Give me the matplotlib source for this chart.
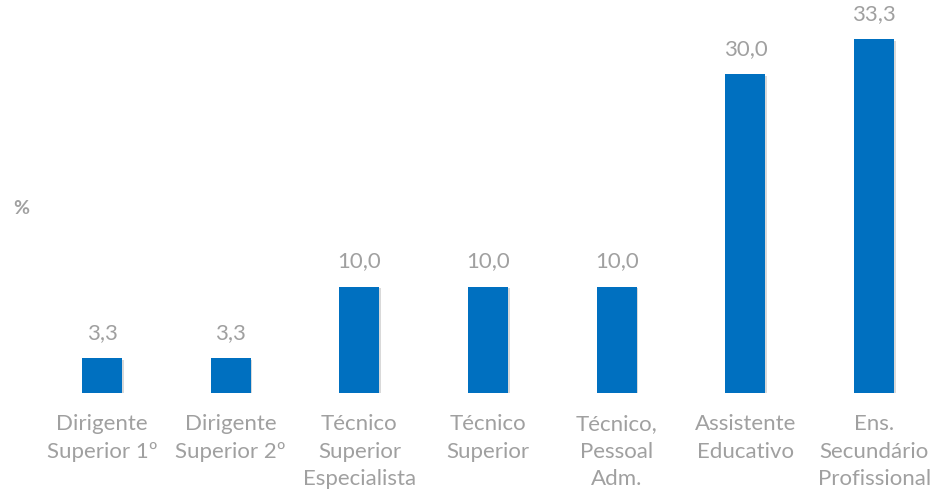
import matplotlib
matplotlib.use("Agg")
import matplotlib.pyplot as plt
import matplotlib.patheffects as pe

categories = [
    "Dirigente\nSuperior 1º",
    "Dirigente\nSuperior 2º",
    "Técnico\nSuperior\nEspecialista",
    "Técnico\nSuperior",
    "Técnico,\nPessoal\nAdm.",
    "Assistente\nEducativo",
    "Ens.\nSecundário\nProfissional",
]
values = [3.3, 3.3, 10.0, 10.0, 10.0, 30.0, 33.3]
value_labels = ["3,3", "3,3", "10,0", "10,0", "10,0", "30,0", "33,3"]

W, H = 934, 495
fig = plt.figure(figsize=(W / 100, H / 100), dpi=100)
plt.rcParams["font.family"] = ["Lato", "DejaVu Sans"]

left_px, right_px = 37.7, 938.4
bottom_px, top_px = 393, 10.3
ax = fig.add_axes([left_px / W, (H - bottom_px) / H,
                   (right_px - left_px) / W, (bottom_px - top_px) / H])

text_gray = "#A0A0A0"
x = list(range(len(categories)))
bars = ax.bar(x, values, width=0.31, color="#0070C0", zorder=3)
for b in bars:
    b.set_path_effects([pe.SimplePatchShadow(offset=(1.2, -1.2), shadow_rgbFace="#000000", alpha=0.15),
                        pe.Normal()])

for xi, v, lab in zip(x, values, value_labels):
    ax.annotate(lab, (xi, v), xytext=(0, 11), textcoords="offset points",
                ha="center", va="bottom", fontsize=16, color=text_gray)

ax.set_xlim(-0.5, len(categories) - 0.5)
ax.set_ylim(0, 36)
ax.set_xticks(x)
ax.set_xticklabels(categories, fontsize=16, color=text_gray, linespacing=1.48)
ax.tick_params(axis="x", length=0, pad=15)
ax.set_yticks([])
for s in ax.spines.values():
    s.set_visible(False)

fig.text(21 / W, 1 - 208 / H, "%", ha="center", va="center", fontsize=14,
         fontweight="bold", color=text_gray)

fig.savefig("out.png", dpi=100)
